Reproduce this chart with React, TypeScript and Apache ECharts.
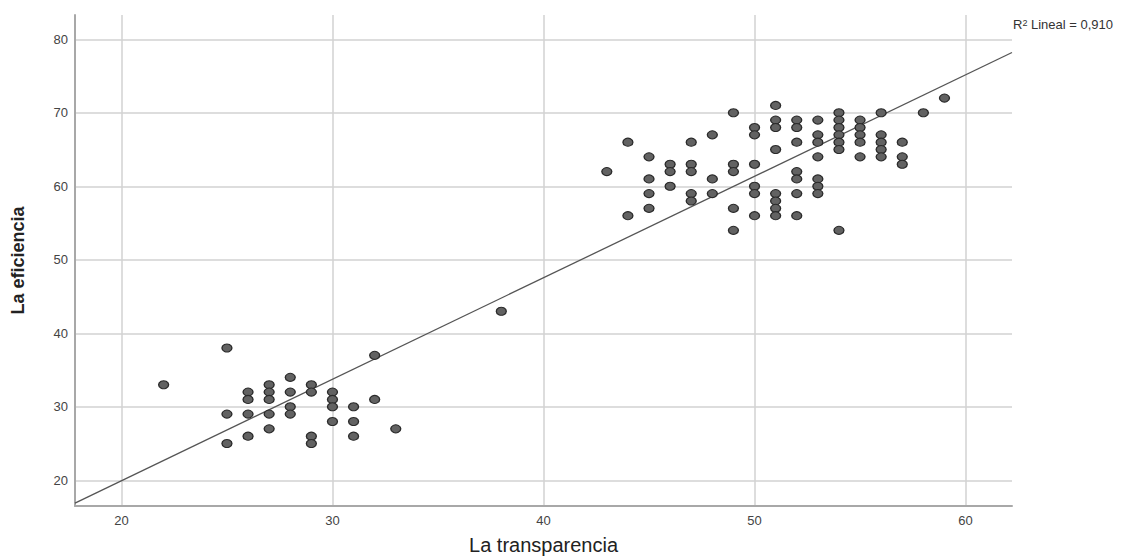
import React, { useEffect, useRef } from "react";
import * as echarts from "echarts";

// La transparencia (x) and La eficiencia (y), one entry per respondent
const transparencia = [
  22,
  25, 25, 25,
  26, 26, 26, 26,
  27, 27, 27, 27, 27,
  28, 28, 28, 28,
  29, 29, 29, 29,
  30, 30, 30, 30,
  31, 31, 31,
  32, 32,
  33,
  38,
  43,
  44, 44,
  45, 45, 45, 45,
  46, 46, 46,
  47, 47, 47, 47, 47,
  48, 48, 48,
  49, 49, 49, 49, 49,
  50, 50, 50, 50, 50, 50,
  51, 51, 51, 51, 51, 51, 51, 51,
  52, 52, 52, 52, 52, 52, 52,
  53, 53, 53, 53, 53, 53, 53,
  54, 54, 54, 54, 54, 54, 54,
  55, 55, 55, 55, 55,
  56, 56, 56, 56, 56,
  57, 57, 57,
  58,
  59,
];
const eficiencia = [
  33,
  38, 29, 25,
  32, 31, 29, 26,
  33, 32, 31, 29, 27,
  34, 32, 30, 29,
  33, 32, 26, 25,
  32, 31, 30, 28,
  30, 28, 26,
  37, 31,
  27,
  43,
  62,
  66, 56,
  64, 61, 59, 57,
  63, 62, 60,
  66, 63, 62, 59, 58,
  67, 61, 59,
  70, 63, 62, 57, 54,
  68, 67, 63, 60, 59, 56,
  71, 69, 68, 65, 59, 58, 57, 56,
  69, 68, 66, 62, 61, 59, 56,
  69, 67, 66, 64, 61, 60, 59,
  70, 69, 68, 67, 66, 65, 54,
  69, 68, 67, 66, 64,
  70, 67, 66, 65, 64,
  66, 64, 63,
  70,
  72,
];

// Linear fit line (R² Lineal) ends
const fitX = [17.8, 62.2];
const fitY = [16.9, 78.2];

const xTicks = [20, 30, 40, 50, 60];
const yTicks = [20, 30, 40, 50, 60, 70, 80];
const xRange = [17.8, 62.2];
const yRange = [16.5, 83.3];
const xTitle = "La transparencia";
const yTitle = "La eficiencia";
const r2Value = "0,910";

export default function App() {
  const ref = useRef<HTMLDivElement>(null);
  useEffect(() => {
    if (!ref.current) return;
    const chart = echarts.init(ref.current, null, { renderer: "svg" });
    const points = transparencia.map((x, i) => [x, eficiencia[i]]);
    const line = fitX.map((x, i) => [x, fitY[i]]);
    const font = "'Liberation Sans', Arial, sans-serif";
    chart.setOption({
      animation: false,
      backgroundColor: "#ffffff",
      textStyle: { fontFamily: font },
      grid: { left: 75, right: 115, top: 15, bottom: 52, containLabel: false },
      xAxis: {
        type: "value",
        min: xRange[0],
        max: xRange[1],
        name: xTitle,
        nameLocation: "middle",
        nameGap: 29,
        nameTextStyle: { fontSize: 20, color: "#222", fontFamily: font },
        axisLine: { show: true, lineStyle: { color: "#a8a8a8", width: 2 } },
        axisTick: { show: false, customValues: xTicks },
        axisLabel: {
          customValues: xTicks,
          fontSize: 13,
          color: "#444",
          margin: 8,
          fontFamily: font,
        },
        splitLine: { show: true, lineStyle: { color: "#d2d2d2", width: 1.5 } },
      },
      yAxis: {
        type: "value",
        min: yRange[0],
        max: yRange[1],
        name: yTitle,
        nameLocation: "middle",
        nameGap: 48,
        nameTextStyle: { fontSize: 18, color: "#222", fontWeight: "bold", fontFamily: font },
        axisLine: { show: true, lineStyle: { color: "#a8a8a8", width: 2 } },
        axisTick: { show: false, customValues: yTicks },
        axisLabel: {
          customValues: yTicks,
          fontSize: 13,
          color: "#444",
          margin: 7,
          fontFamily: font,
        },
        splitLine: { show: true, lineStyle: { color: "#d2d2d2", width: 1.5 } },
      },
      series: [
        {
          type: "line",
          data: line,
          symbol: "none",
          silent: true,
          lineStyle: { color: "#555", width: 1.3 },
          z: 3,
        },
        {
          type: "scatter",
          data: points,
          symbol: "circle",
          symbolSize: [10, 8],
          itemStyle: { color: "#626262", borderColor: "#2a2a2a", borderWidth: 1.2, opacity: 1 },
          z: 4,
        },
      ],
      graphic: [
        {
          type: "text",
          left: 1013,
          top: 18,
          style: {
            text: "R{sup|2} Lineal = " + r2Value,
            fontSize: 13,
            fill: "#333",
            fontFamily: font,
            rich: {
              sup: { fontSize: 9, verticalAlign: "top", fill: "#333", lineHeight: 13 },
            },
          },
        },
      ],
    });
    return () => chart.dispose();
  }, []);
  return (
    <div
      ref={ref}
      style={{ position: "fixed", left: 0, top: 0, width: 1127, height: 560 }}
    />
  );
}
